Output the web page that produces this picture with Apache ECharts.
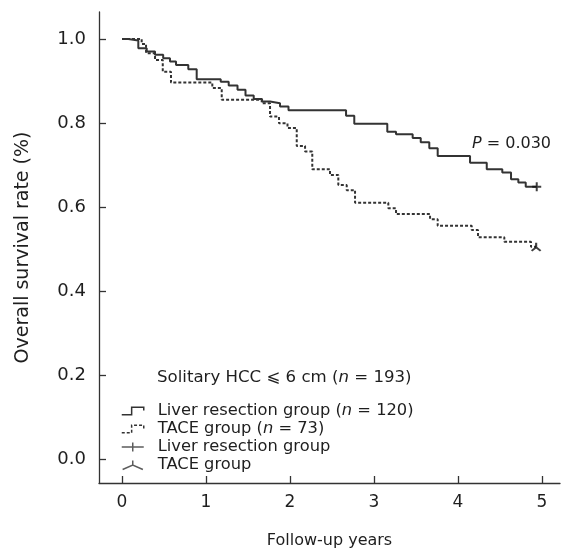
<!DOCTYPE html>
<html>
<head>
<meta charset="utf-8">
<script src="https://cdn.jsdelivr.net/npm/echarts@6/dist/echarts.min.js"></script>
<style>
html,body{margin:0;padding:0;background:#fff;}
#c{width:564px;height:554px;}
</style>
</head>
<body>
<div id="c"></div>
<script>
// Kaplan-Meier steps: time of drop (years) and survival after the drop
var resectionTimes = [0, 0.075, 0.194, 0.294, 0.393, 0.49, 0.571, 0.643, 0.789, 0.889, 1.175, 1.27, 1.375, 1.47, 1.568, 1.667, 1.762, 1.881, 1.982, 2.667, 2.765, 3.158, 3.262, 3.46, 3.556, 3.658, 3.758, 4.143, 4.342, 4.527, 4.631, 4.718, 4.806, 4.937];
var resectionSurvival = [1.0, 0.996, 0.978, 0.970, 0.962, 0.954, 0.946, 0.938, 0.928, 0.904, 0.898, 0.889, 0.879, 0.865, 0.857, 0.851, 0.847, 0.839, 0.830, 0.817, 0.798, 0.779, 0.773, 0.764, 0.754, 0.740, 0.721, 0.705, 0.690, 0.682, 0.666, 0.658, 0.648, 0.648];
var taceTimes = [0, 0.234, 0.286, 0.393, 0.485, 0.583, 1.075, 1.187, 1.663, 1.762, 1.869, 1.97, 2.08, 2.179, 2.265, 2.476, 2.575, 2.675, 2.774, 3.17, 3.262, 3.667, 3.758, 4.163, 4.238, 4.551, 4.869, 4.93];
var taceSurvival = [1.0, 0.988, 0.966, 0.950, 0.922, 0.896, 0.883, 0.855, 0.847, 0.815, 0.799, 0.788, 0.745, 0.732, 0.690, 0.676, 0.652, 0.640, 0.610, 0.597, 0.583, 0.571, 0.555, 0.545, 0.528, 0.517, 0.505, 0.505];
var resectionCensor = [[4.937, 0.648]];
var taceCensor = [[4.93, 0.505]];
var xTicks = [0, 1, 2, 3, 4, 5];
var yTicks = [0, 0.2, 0.4, 0.6, 0.8, 1.0];
var seriesNames = ['Liver resection group (n = 120)', 'TACE group (n = 73)', 'Liver resection group', 'TACE group'];
var legendLabels = ['Liver resection group ({i|n} = 120)', 'TACE group ({i|n} = 73)', 'Liver resection group', 'TACE group'];
var titleText = 'Solitary HCC \u2A7D 6 cm ({i|n} = 193)';
var pText = '{i|P} = 0.030';

function zip(a, b) { return a.map(function (v, i) { return [v, b[i]]; }); }

var FONT = 'DejaVu Sans';
var INK = '#1e1e1e';
var LINE = '#333';

var chart = echarts.init(document.getElementById('c'), null, {renderer: 'canvas'});
chart.setOption({
  animation: false,
  backgroundColor: '#fff',
  textStyle: {fontFamily: FONT},
  grid: {left: 99, right: 4, top: 12, bottom: 71, containLabel: false, outerBoundsMode: 'none'},
  title: {
    text: titleText,
    left: 152, top: 364,
    textStyle: {fontFamily: FONT, fontSize: 16.6, fontWeight: 'normal', color: INK,
      rich: {i: {fontFamily: FONT, fontSize: 16.6, fontStyle: 'italic', color: INK}}}
  },
  legend: {
    orient: 'vertical',
    left: 116, top: 397,
    itemWidth: 22, itemHeight: 9, itemGap: 0,
    selectedMode: false,
    textStyle: {fontFamily: FONT, fontSize: 16.3, color: INK, lineHeight: 18, padding: [0, 0, 0, 9],
      rich: {i: {fontFamily: FONT, fontSize: 16.3, fontStyle: 'italic', color: INK, lineHeight: 18}}},
    formatter: function (name) { return legendLabels[seriesNames.indexOf(name)]; },
    data: [
      {name: seriesNames[0], icon: 'path://M0,8 L9,8 L9,1 L20,1 L20,4',
        itemStyle: {color: 'rgba(0,0,0,0)', borderColor: LINE, borderWidth: 1.5, borderType: 'solid'}},
      {name: seriesNames[1], icon: 'path://M0,8 L9,8 L9,1 L20,1 L20,4',
        itemStyle: {color: 'rgba(0,0,0,0)', borderColor: LINE, borderWidth: 1.5, borderType: [3, 2]}},
      {name: seriesNames[2], icon: 'path://M10,0 L10,8 M0,4 L20,4',
        itemStyle: {color: 'rgba(0,0,0,0)', borderColor: LINE, borderWidth: 1.5, borderType: 'solid'}},
      {name: seriesNames[3], icon: 'path://M10,0 L10,4 M1,8 L10,4 L19,8',
        itemStyle: {color: 'rgba(0,0,0,0)', borderColor: LINE, borderWidth: 1.5, borderType: 'solid'}}
    ]
  },
  graphic: [{
    type: 'text', left: 472, top: 136,
    style: {text: pText, fontFamily: FONT, fontSize: 16, fill: INK,
      rich: {i: {fontFamily: FONT, fontSize: 16, fontStyle: 'italic', fill: INK}}}
  }],
  xAxis: {
    type: 'value', min: -0.274, max: 5.214,
    name: 'Follow-up years', nameLocation: 'middle', nameGap: 50,
    nameTextStyle: {fontFamily: FONT, fontSize: 16, color: INK},
    axisLine: {show: true, onZero: false, lineStyle: {color: LINE, width: 1.3}},
    axisTick: {show: true, inside: true, length: 7, customValues: xTicks, lineStyle: {color: LINE, width: 1.3}},
    axisLabel: {customValues: xTicks, fontFamily: FONT, fontSize: 17, color: INK, margin: 11,
      formatter: function (v) { return String(v); }},
    splitLine: {show: false}
  },
  yAxis: {
    type: 'value', min: -0.057, max: 1.064,
    name: 'Overall survival rate (%)', nameLocation: 'middle', nameGap: 66, nameRotate: 90,
    nameTextStyle: {fontFamily: FONT, fontSize: 19, color: INK},
    axisLine: {show: true, onZero: false, lineStyle: {color: LINE, width: 1.3}},
    axisTick: {show: true, inside: true, length: 7, customValues: yTicks, lineStyle: {color: LINE, width: 1.3}},
    axisLabel: {customValues: yTicks, fontFamily: FONT, fontSize: 18, color: INK, margin: 13,
      formatter: function (v) { return v.toFixed(1); }},
    splitLine: {show: false}
  },
  series: [
    {name: seriesNames[0], type: 'line', step: 'end', symbol: 'none', data: zip(resectionTimes, resectionSurvival),
      lineStyle: {color: LINE, width: 2, type: 'solid'}, itemStyle: {color: LINE}, z: 3},
    {name: seriesNames[1], type: 'line', step: 'end', symbol: 'none', data: zip(taceTimes, taceSurvival),
      lineStyle: {color: LINE, width: 2, type: [3, 2]}, itemStyle: {color: LINE}, z: 3},
    {name: seriesNames[2], type: 'scatter', data: resectionCensor,
      symbol: 'path://M5,0 L5,10 M0,5 L10,5', symbolSize: [9, 9],
      itemStyle: {color: 'rgba(0,0,0,0)', borderColor: '#111', borderWidth: 2}, z: 4},
    {name: seriesNames[3], type: 'scatter', data: taceCensor,
      symbol: 'path://M5,0 L5,5 M0,9 L5,5 L10,9', symbolSize: [9, 8],
      itemStyle: {color: 'rgba(0,0,0,0)', borderColor: '#111', borderWidth: 2}, z: 4}
  ]
});
</script>
</body>
</html>
